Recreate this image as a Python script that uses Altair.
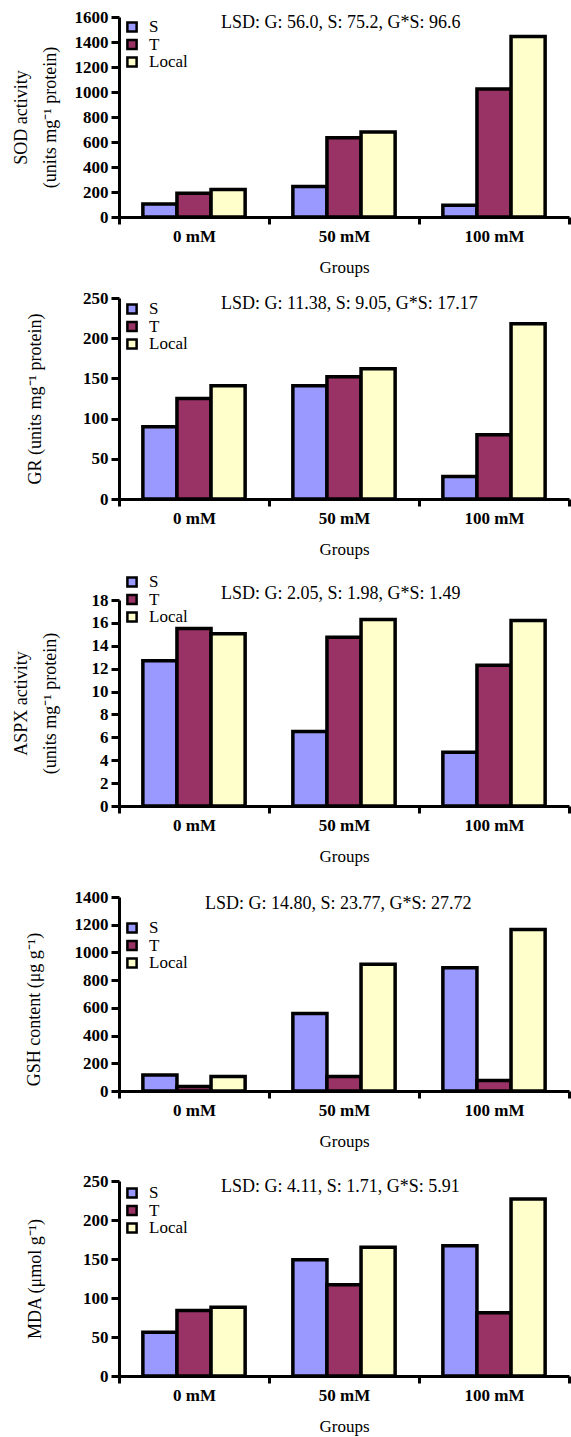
import altair as alt
import pandas as pd

# ---------------- data ----------------
doses = ["0 mM", "50 mM", "100 mM"]
genotypes = ["S", "T", "Local"]
colors = ["#9999FF", "#993366", "#FFFFCC"]

sod_S = [105, 245, 95]
sod_T = [190, 635, 1025]
sod_Local = [220, 680, 1445]
sod_ticks = [0, 200, 400, 600, 800, 1000, 1200, 1400, 1600]
sod_title = ["SOD activity", "(units mg\u207b\u00b9 protein)"]
sod_lsd = "LSD: G: 56.0, S: 75.2, G*S: 96.6"

gr_S = [90, 141, 28]
gr_T = [125, 152, 80]
gr_Local = [141, 162, 218]
gr_ticks = [0, 50, 100, 150, 200, 250]
gr_title = "GR (units mg\u207b\u00b9 protein)"
gr_lsd = "LSD: G: 11.38, S: 9.05, G*S: 17.17"

aspx_S = [12.7, 6.5, 4.7]
aspx_T = [15.5, 14.75, 12.3]
aspx_Local = [15.05, 16.3, 16.2]
aspx_ticks = [0, 2, 4, 6, 8, 10, 12, 14, 16, 18]
aspx_title = ["ASPX activity", "(units mg\u207b\u00b9 protein)"]
aspx_lsd = "LSD: G: 2.05, S: 1.98, G*S: 1.49"

gsh_S = [115, 560, 890]
gsh_T = [32, 105, 75]
gsh_Local = [105, 915, 1165]
gsh_ticks = [0, 200, 400, 600, 800, 1000, 1200, 1400]
gsh_title = "GSH content (\u03bcg g\u207b\u00b9)"
gsh_lsd = "LSD: G: 14.80, S: 23.77, G*S: 27.72"

mda_S = [56, 149, 167]
mda_T = [84, 117, 81]
mda_Local = [88, 165, 227]
mda_ticks = [0, 50, 100, 150, 200, 250]
mda_title = "MDA (\u03bcmol g\u207b\u00b9)"
mda_lsd = "LSD: G: 4.11, S: 1.71, G*S: 5.91"

x_title = "Groups"

# ---------------- layout / style ----------------
FONT = "Liberation Serif"
PLOT_W = 450
AXIS_X = 119
LW = 3
LEG_STEP = 17.5

# per panel: height, top overhang, bottom extent, legend first-row y, lsd x, lsd y, title x, title y shift
layout = [
    dict(h=200, top=17, bottom=62, leg_y=10, lsd_x=102, lsd_y=6, tx=-98, ty=0),
    dict(h=201, top=19, bottom=62, leg_y=11, lsd_x=102, lsd_y=6, tx=-84, ty=0),
    dict(h=206, top=39, bottom=62, leg_y=-18, lsd_x=102, lsd_y=-6, tx=-98, ty=0),
    dict(h=194, top=29, bottom=62, leg_y=31, lsd_x=86, lsd_y=7, tx=-85, ty=15),
    dict(h=195, top=28, bottom=61, leg_y=12, lsd_x=102, lsd_y=6, tx=-84, ty=0),
]

series = [
    ({"S": sod_S, "T": sod_T, "Local": sod_Local}, sod_ticks, sod_title, sod_lsd),
    ({"S": gr_S, "T": gr_T, "Local": gr_Local}, gr_ticks, gr_title, gr_lsd),
    ({"S": aspx_S, "T": aspx_T, "Local": aspx_Local}, aspx_ticks, aspx_title, aspx_lsd),
    ({"S": gsh_S, "T": gsh_T, "Local": gsh_Local}, gsh_ticks, gsh_title, gsh_lsd),
    ({"S": mda_S, "T": mda_T, "Local": mda_Local}, mda_ticks, mda_title, mda_lsd),
]

color_scale = alt.Scale(domain=genotypes, range=colors)


def make_panel(vals, ticks, ytitle, lsd_text, L):
    rows = []
    for g in genotypes:
        for i, d in enumerate(doses):
            rows.append({"dose": d, "genotype": g, "value": vals[g][i]})
    df = pd.DataFrame(rows)

    bars = alt.Chart(df).mark_bar(stroke="black", strokeWidth=3.5).encode(
        x=alt.X(
            "dose:N",
            sort=doses,
            scale=alt.Scale(paddingInner=0, paddingOuter=0),
            axis=alt.Axis(
                title=x_title,
                labelAngle=0,
                tickBand="extent",
                domainColor="black",
                domainWidth=LW,
                tickColor="black",
                tickWidth=LW,
                tickSize=7,
                labelFont=FONT,
                labelFontSize=17,
                labelFontWeight="bold",
                labelColor="black",
                labelPadding=4,
                titleFont=FONT,
                titleFontSize=17,
                titleFontWeight="normal",
                titleColor="black",
                titlePadding=15,
            ),
        ),
        xOffset=alt.XOffset(
            "genotype:N",
            sort=genotypes,
            scale=alt.Scale(paddingInner=0, paddingOuter=0.7),
        ),
        y=alt.Y(
            "value:Q",
            scale=alt.Scale(domain=[ticks[0], ticks[-1]], nice=False),
            axis=alt.Axis(
                values=ticks,
                format="d",
                title=ytitle,
                grid=False,
                domainColor="black",
                domainWidth=LW,
                tickColor="black",
                tickWidth=LW,
                tickSize=8,
                labelFont=FONT,
                labelFontSize=17,
                labelFontWeight="bold",
                labelColor="black",
                labelPadding=3,
                titleFont=FONT,
                titleFontSize=18,
                titleFontWeight="normal",
                titleColor="black",
                titleLineHeight=29,
                titleAngle=270,
                titleAlign="center",
                titleBaseline="middle",
                titleX=L["tx"],
                titleY=L["h"] / 2 + L["ty"],
            ),
        ),
        color=alt.Color("genotype:N", scale=color_scale, legend=None),
    )

    # legend drawn from the genotype list through a point scale
    leg_df = pd.DataFrame({"genotype": genotypes})
    leg_y = alt.Y(
        "genotype:N",
        scale=alt.Scale(
            type="point",
            domain=genotypes,
            range=[L["leg_y"], L["leg_y"] + 2 * LEG_STEP],
            padding=0,
        ),
        axis=None,
    )
    leg_sq = alt.Chart(leg_df).mark_square(
        size=85, stroke="black", strokeWidth=2.5, opacity=1, filled=True
    ).encode(
        x=alt.value(13),
        y=leg_y,
        color=alt.Color("genotype:N", scale=color_scale, legend=None),
    )
    leg_txt = alt.Chart(leg_df).mark_text(
        align="left", baseline="middle", font=FONT, fontSize=17, color="black"
    ).encode(x=alt.value(30), y=leg_y, text="genotype:N")

    lsd = alt.Chart(pd.DataFrame({"t": [lsd_text]})).mark_text(
        align="left", baseline="middle", font=FONT, fontSize=18, color="black"
    ).encode(text="t:N", x=alt.value(L["lsd_x"]), y=alt.value(L["lsd_y"]))

    spacer = alt.Chart(pd.DataFrame({"t": [0]})).mark_rule(opacity=0).encode(
        x=alt.value(-AXIS_X),
        x2=alt.value(0),
        y=alt.value(-L["top"]),
        y2=alt.value(L["h"] + L["bottom"]),
    )

    return (
        alt.layer(bars, leg_sq, leg_txt, lsd, spacer)
        .resolve_scale(y="independent")
        .properties(width=PLOT_W, height=L["h"])
    )


panels = [make_panel(*s, L) for s, L in zip(series, layout)]

chart = (
    alt.vconcat(*panels, spacing=0)
    .properties(padding=0, background="white")
    .configure(font=FONT)
    .configure_view(stroke=None)
    .configure_concat(spacing=0)
)

chart.save("out.html", embed_options={"renderer": "svg", "actions": False})
